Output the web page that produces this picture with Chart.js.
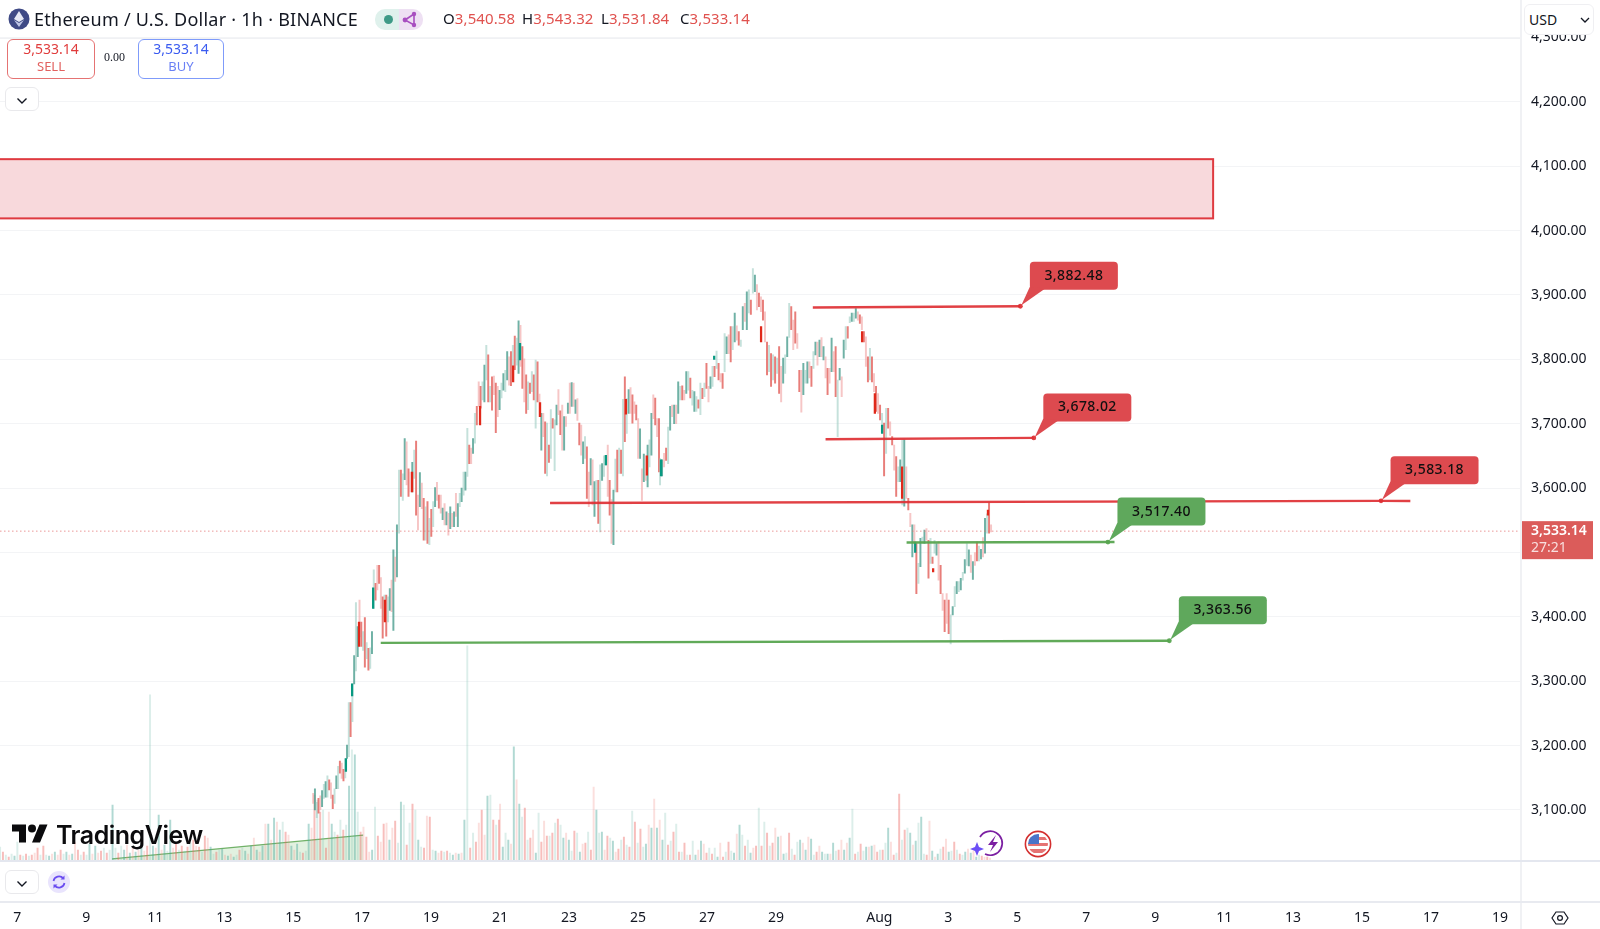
<!DOCTYPE html>
<html>
<head>
<meta charset="utf-8">
<title>Ethereum / U.S. Dollar</title>
<script src="https://cdn.jsdelivr.net/npm/chart.js@4"></script>
<style>
	html, body { margin: 0; padding: 0; background: #fff; }
	#wrap { position: relative; width: 1600px; height: 929px; overflow: hidden; font-family: "Noto Sans", sans-serif; color: #131722; }
	#chart { position: absolute; left: 0; top: 0; }
	.abs { position: absolute; white-space: nowrap; }
	.red { color: #e0524f; }
	.box { position: absolute; box-sizing: border-box; background: #fff; border-radius: 6px; text-align: center; }
	.rule { position: absolute; background: #e8eaf0; }
</style>
</head>
<body>
<div id="wrap">
	<canvas id="chart" width="1600" height="929"></canvas>

	<div class="rule" style="left:0;top:38px;width:1520px;height:1px;background:#f0f1f4"></div>
	<div class="rule" style="left:1520px;top:0;width:2px;height:929px;background:#f0f1f4"></div>
	<div class="rule" style="left:0;top:860px;width:1600px;height:2px;background:#e4e7ef"></div>
	<div class="rule" style="left:0;top:901px;width:1600px;height:2px"></div>

	<svg class="abs" style="left:8px;top:8px" width="22" height="22" viewBox="0 0 22 22">
		<circle cx="11" cy="11" r="10.5" fill="#3f4a86"/>
		<path d="M11 3l5 8-5 3-5-3z" fill="#e6e9f5"/>
		<path d="M11 15l5-3-5 7-5-7z" fill="#bfc6e6"/>
	</svg>
	<div class="abs" style="left:34px;top:6px;font-size:18px;line-height:26px;letter-spacing:0.25px">Ethereum / U.S. Dollar · 1h · BINANCE</div>

	<div class="abs" style="left:375px;top:9px;width:24px;height:21px;background:#dff1ec;border-radius:10px 0 0 10px"></div>
	<div class="abs" style="left:399px;top:9px;width:24px;height:21px;background:#eee0f3;border-radius:0 10px 10px 0"></div>
	<div class="abs" style="left:384px;top:15px;width:9px;height:9px;border-radius:50%;background:#3e9a86"></div>
	<svg class="abs" style="left:401px;top:11px" width="17" height="17" viewBox="0 0 17 17">
		<path d="M13 3L4 9l9 5z" fill="none" stroke="#a84fc0" stroke-width="1.6"/>
		<circle cx="13" cy="3" r="2.2" fill="#a84fc0"/><circle cx="4" cy="9" r="2.4" fill="#a84fc0"/><circle cx="13" cy="14" r="2.2" fill="#a84fc0"/>
	</svg>

	<div class="abs" style="left:443px;top:7px;font-size:15px;line-height:22px;letter-spacing:0.1px">O<span class="red">3,540.58</span></div>
	<div class="abs" style="left:522px;top:7px;font-size:15px;line-height:22px;letter-spacing:0.1px">H<span class="red">3,543.32</span></div>
	<div class="abs" style="left:601px;top:7px;font-size:15px;line-height:22px;letter-spacing:0.1px">L<span class="red">3,531.84</span></div>
	<div class="abs" style="left:680px;top:7px;font-size:15px;line-height:22px;letter-spacing:0.1px">C<span class="red">3,533.14</span></div>

	<div class="box" style="left:7px;top:39px;width:88px;height:40px;border:1px solid #e57373;color:#e03c3c">
		<div style="font-size:14px;line-height:19px;margin-top:-1px">3,533.14</div>
		<div style="font-size:13px;line-height:16px;color:#e2615f">SELL</div>
	</div>
	<div class="abs" style="left:104px;top:50px;font:12px 'Liberation Serif',serif">0.00</div>
	<div class="box" style="left:138px;top:39px;width:86px;height:40px;border:1px solid #7f9bfa;color:#3a5bf0">
		<div style="font-size:14px;line-height:19px;margin-top:-1px">3,533.14</div>
		<div style="font-size:13px;line-height:16px;color:#6a80f5">BUY</div>
	</div>
	<div class="box" style="left:5px;top:87px;width:34px;height:24px;border:1px solid #e9e9ec">
		<svg width="12" height="8" viewBox="0 0 12 8" style="margin-top:7px"><path d="M1.5 1.5L6 6l4.5-4.5" fill="none" stroke="#131722" stroke-width="1.4"/></svg>
	</div>

	<div class="box" style="left:1524px;top:4px;width:70px;height:31px;border:1px solid #efeff2;text-align:left;padding:3px 0 0 4px;font-size:14px;line-height:24px">USD
		<svg width="10" height="7" viewBox="0 0 10 7" style="position:absolute;left:55px;top:12px"><path d="M1 1l4 4 4-4" fill="none" stroke="#131722" stroke-width="1.3"/></svg>
	</div>

	<svg class="abs" style="left:12px;top:824px" width="36" height="19" viewBox="0 4 36 18">
		<path d="M14 22H7V11H0V4h14v18zM28 22h-8l7.5-18h8L28 22z" fill="#0b0b0d"/><circle cx="20" cy="8" r="4" fill="#0b0b0d"/>
	</svg>
	<div class="abs" style="left:56px;top:818px;font:600 25px/34px Inter,sans-serif;letter-spacing:-0.5px;color:#0b0b0d">TradingView</div>

	<svg class="abs" style="left:968px;top:826px" width="40" height="34" viewBox="0 0 40 34">
		<path d="M12 11A12 12 0 1 1 17 28" fill="none" stroke="#7b1fa2" stroke-width="1.7"/>
		<path d="M28 9l-8 10h5l-3 7 8-10h-5z" fill="#7b1fa2"/>
		<path d="M9 16l2 5 5 2-5 2-2 5-2-5-5-2 5-2z" fill="#6c4ff6"/>
	</svg>
	<svg class="abs" style="left:1024px;top:830px" width="28" height="28" viewBox="0 0 28 28">
		<circle cx="14" cy="14" r="12.6" fill="#fff" stroke="#d32f2f" stroke-width="1.6"/>
		<clipPath id="flagclip"><circle cx="14" cy="14" r="10"/></clipPath>
		<g clip-path="url(#flagclip)">
			<rect x="4" y="4" width="20" height="20" fill="#fff"/>
			<rect x="4" y="7" width="20" height="3" fill="#e57373"/>
			<rect x="4" y="13" width="20" height="3" fill="#e57373"/>
			<rect x="4" y="19" width="20" height="4" fill="#e57373"/>
			<rect x="4" y="4" width="11" height="10" fill="#4a74c9"/>
		</g>
	</svg>

	<div class="box" style="left:5px;top:870px;width:34px;height:24px;border:1px solid #e9e9ec">
		<svg width="12" height="8" viewBox="0 0 12 8" style="margin-top:7px"><path d="M1.5 1.5L6 6l4.5-4.5" fill="none" stroke="#131722" stroke-width="1.4"/></svg>
	</div>
	<svg class="abs" style="left:48px;top:871px" width="22" height="22" viewBox="0 0 22 22">
		<circle cx="11" cy="11" r="11" fill="#e9e4fd"/>
		<path d="M5.5 10a5.6 5.6 0 0 1 9.8-2.6M16.5 12a5.6 5.6 0 0 1-9.8 2.6" fill="none" stroke="#6a4cf0" stroke-width="1.7"/>
		<path d="M16.5 4.5v4h-4zM5.5 17.5v-4h4z" fill="#6a4cf0"/>
	</svg>
	<svg class="abs" style="left:1551px;top:909px" width="18" height="18" viewBox="0 0 18 18">
		<path d="M5 3h8l4 6-4 6H5L1 9z" fill="none" stroke="#131722" stroke-width="1.2"/>
		<circle cx="9" cy="9" r="2.4" fill="none" stroke="#131722" stroke-width="1.2"/>
	</svg>
</div>

<script>
// price ticks and date ticks, x is counted in days from 1 July
const priceTicks = [3100, 3200, 3300, 3400, 3500, 3600, 3700, 3800, 3900, 4000, 4100, 4200, 4300];
const dateTicks = [7, 9, 11, 13, 15, 17, 19, 21, 23, 25, 27, 29, 32, 34, 36, 38, 40, 42, 44, 46, 48, 50];
const dateLabels = ['7', '9', '11', '13', '15', '17', '19', '21', '23', '25', '27', '29', 'Aug', '3', '5', '7', '9', '11', '13', '15', '17', '19'];

const lastPrice = 3533.14;
const lastPriceText = '3,533.14';
const countdownText = '27:21';

// candles: high, low and up (1) or down (0)
const candleHigh = [
	3126,3133,3112,3118,3122,3130,3140,3144,3153,3147,
	3142,3123,3133,3153,3168,3176,3173,3163,3180,3201,
	3267,3267,3296,3340,3422,3385,3426,3392,3377,3399,
	3360,3351,3352,3377,3473,3452,3480,3480,3461,3431,
	3434,3434,3431,3444,3457,3504,3493,3543,

	3628,3628,3622,3677,3672,3630,3625,3640,3659,3673,
	3589,3624,3608,3584,3571,3579,3553,3567,3579,3601,
	3609,3589,3589,3569,3576,3563,3561,3571,3561,3563,
	3592,3576,3592,3600,3625,3625,3693,3667,3662,3677,
	3716,3727,3765,3758,3765,3791,3822,3807,3758,3773,
	3774,3763,3758,3752,3763,3778,3783,3812,3804,3812,
	3822,3836,3833,3860,3853,3820,3801,3776,3765,3763,
	3781,3776,3799,3796,3746,3716,3716,3703,3701,3667,
	3722,3708,3706,3729,3753,3720,3729,3711,3711,3732,
	3763,3764,3763,3737,3739,3701,3698,3672,3680,3664,
	3625,3646,3644,3610,3612,3612,3636,3638,3650,3651,
	3667,3612,3582,3597,3645,3659,3662,3659,3738,3773,
	3739,3753,3756,3745,3734,3729,3708,3692,3630,3653,
	3650,3667,3675,3716,3745,3740,3708,3708,

	3646,3644,3654,3662,3695,3727,3729,3729,3729,3765,
	3758,3759,3752,3781,3781,3771,3752,3750,3742,3737,
	3763,3755,3763,3794,3758,3773,3789,3789,3813,3794,
	3778,3778,3840,3835,3838,3851,3851,3872,3852,3843,
	3830,3882,3887,3905,3908,3892,3941,3931,3916,3903,
	3897,3892,3874,3827,3822,3809,3807,3804,3802,3820,
	3789,3802,3807,3835,3887,3882,3861,3874,3840,3783,
	3783,3794,3783,3796,3796,3789,3812,3827,3827,3830,
	3834,3820,3804,3786,3786,3833,3812,3820,3768,3786,
	3773,3830,3851,3851,3866,3872,3872,3879,3874,3869,
	3866,3843,3835,3804,3817,3804,3778,3758,3747,3729,
	3716,3701,3724,3724,3703,3680,3667,3649,3633,3644,
	3675,3675,3633,3584,3561,3543,3543,3514,3483,3522,
	3524,3535,3537,3519,3522,3493,3519,3514,3517,3480,
	3436,3426,3436,3426,3403,3416,3447,3455,3455,3460,
	3469,3489,3514,3504,3496,3486,3500,3516,3510,3505,
	3523,3553,3560,3577,3543
];
const candleLow = [
	3110,3100,3088,3095,3100,3105,3118,3120,3120,3131,
	3118,3102,3110,3133,3133,3157,3149,3145,3150,3180,
	3183,3214,3237,3296,3316,3338,3369,3354,3348,3322,
	3335,3317,3320,3343,3413,3426,3442,3452,3413,3367,
	3400,3370,3392,3410,3408,3379,3455,3462,

	3530,3587,3581,3613,3605,3587,3594,3594,3615,3558,
	3535,3571,3568,3519,3519,3514,3512,3525,3540,3571,
	3581,3569,3561,3551,3543,3543,3527,3537,3540,3540,
	3556,3540,3571,3579,3589,3597,3618,3638,3638,3654,
	3670,3698,3727,3724,3737,3734,3768,3734,3734,3721,
	3745,3686,3711,3722,3740,3752,3750,3768,3760,3759,
	3789,3784,3791,3778,3789,3755,3734,3716,3722,3747,
	3750,3737,3693,3734,3711,3659,3680,3623,3619,3640,
	3646,3693,3627,3698,3714,3683,3659,3659,3696,3716,
	3716,3727,3727,3716,3705,3667,3651,3638,3646,3584,
	3571,3605,3574,3556,3582,3545,3532,3612,3618,3636,
	3587,3558,3514,3512,3594,3594,3623,3623,3619,3672,
	3685,3716,3716,3701,3716,3706,3646,3646,3581,3610,
	3612,3602,3633,3651,3708,3698,3680,3625,

	3605,3619,3633,3643,3638,3690,3711,3700,3700,3716,
	3737,3737,3737,3747,3752,3740,3729,3719,3719,3724,
	3714,3739,3742,3755,3734,3755,3758,3773,3786,3768,
	3765,3755,3781,3809,3809,3796,3815,3827,3830,3822,
	3820,3846,3859,3846,3872,3870,3903,3905,3877,3882,
	3874,3861,3827,3776,3781,3758,3768,3763,3778,3747,
	3734,3763,3778,3804,3834,3846,3815,3825,3817,3750,
	3718,3745,3763,3763,3771,3758,3786,3807,3791,3804,
	3804,3799,3771,3745,3763,3781,3781,3742,3680,3768,
	3742,3802,3815,3833,3857,3859,3859,3864,3861,3856,
	3846,3827,3789,3765,3768,3765,3750,3719,3716,3706,
	3698,3619,3654,3693,3682,3667,3628,3587,3610,3610,
	3574,3572,3584,3566,3540,3493,3514,3436,3452,3478,
	3514,3514,3519,3460,3483,3483,3499,3496,3457,3436,
	3410,3377,3390,3374,3358,3403,3416,3436,3439,3442,
	3457,3468,3480,3479,3469,3458,3480,3487,3487,3490,
	3493,3499,3530,3530,3532
];
const candleUp = [
	0,1,1,0,0,1,1,1,1,0,
	0,0,1,1,1,0,0,0,1,1,
	1,0,1,1,1,1,0,0,1,0,
	1,0,1,1,1,0,0,0,0,0,
	1,0,1,1,0,1,0,1,

	1,0,1,1,0,0,0,1,1,0,
	0,1,0,0,1,0,1,0,1,1,
	0,0,0,1,0,1,0,1,0,1,
	0,1,1,1,1,1,1,0,0,1,
	1,0,0,0,1,1,1,0,1,0,
	0,0,0,1,1,1,1,1,0,0,
	1,0,1,1,0,0,0,0,1,0,
	1,0,1,0,0,1,0,0,1,0,
	1,0,1,1,0,0,0,1,0,1,
	0,1,0,1,0,0,0,1,1,0,
	0,1,0,1,1,0,1,1,1,1,
	0,0,0,1,1,0,1,0,1,0,
	1,1,0,0,0,0,0,1,0,1,
	0,1,1,1,0,0,0,0,

	1,1,0,0,1,1,0,1,0,1,
	1,0,0,1,1,0,1,1,1,0,
	1,0,1,0,0,1,1,0,1,0,
	0,0,1,1,0,0,1,1,0,0,
	1,1,0,1,1,0,1,1,0,0,
	0,0,0,0,1,0,1,0,1,0,
	0,1,1,1,1,0,0,0,0,0,
	0,1,1,1,0,0,1,1,0,1,
	0,1,0,0,0,1,0,0,1,1,
	0,1,1,0,1,1,1,1,0,0,
	0,0,0,0,1,0,0,0,0,0,
	1,0,1,0,0,0,0,0,1,1,
	1,1,0,0,0,1,0,0,1,1,
	1,1,0,0,1,0,1,1,0,0,
	0,0,0,0,1,1,1,1,1,1,
	1,1,1,1,0,1,0,0,1,1,
	0,1,1,0,0
];
// the three blocks above, by number of bars and the days they cover
const candleBlockBars = [48, 138, 165];
const candleBlockFrom = [15.58, 18.07, 25.64];
const candleBlockTo = [18.01, 25.61, 35.24];

// the few candle bodies that stand out in the picture: day, open, close
const bodyDay = [16.91, 17.66, 18.45, 20.42, 21.38, 22.16, 24.65, 25.26, 28.57, 31.5, 31.87, 32.66, 33.56, 35.15, 16.53, 16.71, 17.32, 21.58, 24.07, 25.67, 27.21, 32.08, 33.04];
const bodyOpen = [3392, 3426, 3625, 3727, 3790, 3733, 3738, 3650, 3851, 3843, 3747, 3633, 3475, 3566, 3160, 3277, 3413, 3799, 3636, 3619, 3800, 3685, 3500];
const bodyClose = [3354, 3392, 3594, 3698, 3765, 3711, 3715, 3620, 3827, 3827, 3716, 3584, 3470, 3558, 3180, 3296, 3445, 3825, 3651, 3644, 3805, 3698, 3516];

// volume, first block 7 Jul to 21 Jul, second block to the last bar
const volumeA = [
	13,8,5,3,6,4,18,5,4,6,4,5,
	7,12,5,14,5,4,6,8,5,10,6,
	8,5,6,18,10,5,8,5,16,6,14,7,9,12,7,10,55,
	12,7,14,10,15,7,12,8,10,16,9,14,165,
	14,12,45,10,15,9,40,12,16,10,14,9,13,17,20,14,13,8,24,
	22,13,6,8,10,11,5,4,6,3,5,10,12,9,6,14,22,10,8,14,36,
	36,20,42,38,30,38,28,25,14,10,16,8,7,9,36,32,65,60,48,50,12,48,36,28,
	25,40,30,35,74,110,105,48,28,33,23,8,10,53,24,18,36,37,20,32,39,17,58,55,15,37,56,50,20,13,12,44,43,10,9,7,9,8,9,7,5,7,6,7,40,214,12,27,18,37,50,25,64,65,40,35,40
];
const volumeAUp = [
	1,0,1,0,1,1,1,0,1,0,1,0,
	0,0,1,0,1,1,0,1,0,0,1,
	1,0,1,0,0,1,0,1,1,0,1,0,0,1,0,1,1,
	1,0,1,1,0,1,0,1,0,1,0,0,1,
	1,0,1,0,1,1,1,0,0,1,0,1,0,1,0,0,0,1,0,
	0,1,1,0,1,1,0,1,0,1,1,0,1,1,0,1,0,1,0,1,0,
	1,0,1,0,1,1,0,0,1,0,1,1,0,1,1,0,0,1,0,1,0,0,1,1,
	0,1,0,1,1,1,1,1,0,0,0,0,1,1,0,0,0,0,1,0,0,1,1,1,0,1,0,1,1,1,0,0,0,1,1,0,0,1,0,1,1,0,1,0,1,1,0,1,0,0,0,0,1,1,0,1,0
];
const volumeB = [
	56,13,27,20,16,113,80,56,43,52,20,22,30,7,47,18,39,24,24,27,37,41,35,22,27,20,9,29,27,8,16,17,28,10,73,50,27,28,10,24,
	22,19,8,11,20,23,15,13,49,38,17,31,13,16,35,32,61,32,40,20,47,15,19,28,36,8,8,17,5,5,19,5,10,19,16,7,12,6,12,3,
	17,3,8,18,9,7,26,35,25,14,20,7,12,14,52,14,38,27,14,17,32,23,24,6,7,27,11,5,18,20,17,10,23,21,5,8,14,8,6,6,
	6,17,9,10,20,10,17,22,51,6,8,16,9,13,13,14,15,8,10,10,17,32,18,5,7,66,20,30,32,27,15,19,37,43,6,5,39,9,3,6,
	11,13,21,8,9,18,10,6,5,8,11,7,9,3,5,4,3,3,2
];
const volumeBUp = [
	0,1,1,1,0,1,0,1,1,0,1,0,0,1,1,0,0,0,1,0,1,0,1,1,0,1,1,0,1,1,0,0,1,0,0,1,1,1,0,0,
	1,1,0,0,1,0,1,0,1,0,1,0,1,1,0,1,0,1,0,1,1,0,1,0,1,0,1,0,1,0,1,1,0,1,0,0,1,0,1,1,
	0,0,1,0,1,1,0,1,1,0,1,1,0,0,1,0,1,0,1,0,0,1,0,1,1,0,1,0,1,1,0,1,0,1,1,0,0,1,1,1,
	0,1,1,0,0,1,0,1,1,0,1,0,1,1,0,1,0,0,1,0,1,1,0,0,1,0,1,0,1,1,0,1,1,1,1,0,0,1,0,1,
	1,0,0,1,1,0,1,0,1,1,0,1,0,1,1,0,0,0,0
];
const volumeBlockFrom = [6.5, 21.0];
const volumeBlockTo = [20.97, 35.21];

// drawn levels: day, price
const resistanceHighX = [30.07, 36.09];
const resistanceHighY = [3880.5, 3882.48];
const resistanceMidX = [30.44, 36.48];
const resistanceMidY = [3675.8, 3678.02];
const resistanceLowX = [22.45, 46.55, 47.4];
const resistanceLowY = [3576.9, 3580.2, 3580];
const supportHighX = [32.79, 38.63, 38.82];
const supportHighY = [3515.5, 3516.2, 3516.4];
const supportLowX = [17.54, 40.41];
const supportLowY = [3359.6, 3362.9];
const wedgeX = [9.75, 17.03];
const wedgeY = [3023.9, 3061];

// selling zone: price top and bottom, day it stops at
const zoneTop = 4111;
const zoneBottom = 4019;
const zoneEnd = 41.68;

// callouts: anchor day, anchor price, text
const calloutX = [36.09, 36.48, 46.55, 38.63, 40.41];
const calloutY = [3882.48, 3678.02, 3580.2, 3516.2, 3362.9];
const calloutText = ['3,882.48', '3,678.02', '3,583.18', '3,517.40', '3,363.56'];
const calloutUp = [0, 0, 0, 1, 1];

const xMin = 6.498;
const xMax = 50.58;
const yMin = 3022.3;
const yMax = 4300;

// days for bars listed in blocks
function blockDays(counts, from, to) {
	let days = [];
	counts.forEach((n, b) => {
		for (let i = 0; i < n; i++) {
			days.push(from[b] + (to[b] - from[b]) * i / (n - 1));
		}
	});
	return days;
}

const candleDays = blockDays(candleBlockBars, candleBlockFrom, candleBlockTo);
const volumeDays = blockDays([volumeA.length, volumeB.length], volumeBlockFrom, volumeBlockTo);
const volumeAll = volumeA.concat(volumeB);
const volumeUpAll = volumeAUp.concat(volumeBUp);

function points(xs, ys) {
	return xs.map((x, i) => ({ x: x, y: ys[i] }));
}

function levelLine(xs, ys, color, anchor) {
	return {
		type: 'line',
		data: points(xs, ys),
		borderColor: color,
		borderWidth: 2.4,
		pointRadius: xs.map((x, i) => i === anchor ? 2.4 : 0),
		pointBackgroundColor: color,
		pointBorderWidth: 0,
		order: 1,
		clip: false
	};
}

const RED = 'rgba(222,48,52,0.92)';
const GREEN = 'rgba(88,165,80,0.95)';

// selling zone box behind the candles
const zonePlugin = {
	id: 'zone',
	beforeDatasetsDraw(chart) {
		const { ctx, scales } = chart;
		const top = scales.y.getPixelForValue(zoneTop);
		const bottom = scales.y.getPixelForValue(zoneBottom);
		const right = scales.x.getPixelForValue(zoneEnd);
		ctx.save();
		ctx.fillStyle = '#f8d9dc';
		ctx.strokeStyle = '#df3a40';
		ctx.lineWidth = 2;
		ctx.fillRect(-4, top, right + 4, bottom - top);
		ctx.strokeRect(-4, top, right + 4, bottom - top);
		ctx.restore();
	}
};

// price callouts and the last price tag on the axis
const calloutPlugin = {
	id: 'callout',
	afterDraw(chart) {
		const { ctx, scales } = chart;
		calloutText.forEach((text, i) => {
			const ax = scales.x.getPixelForValue(calloutX[i]);
			const ay = scales.y.getPixelForValue(calloutY[i]);
			const left = ax + 9.5;
			const bottom = ay - 16.5;
			const w = 88;
			const h = 28;
			ctx.save();
			ctx.fillStyle = calloutUp[i] ? '#5fa85c' : '#dd4a4f';
			ctx.beginPath();
			ctx.roundRect(left, bottom - h, w, h, 4);
			ctx.fill();
			ctx.beginPath();
			ctx.moveTo(left, bottom - 3);
			ctx.lineTo(left + 15, bottom - 1);
			ctx.lineTo(ax + 1, ay - 1);
			ctx.closePath();
			ctx.fill();
			ctx.fillStyle = '#101010';
			ctx.font = '500 14px "Noto Sans"';
			ctx.letterSpacing = '0.4px';
			ctx.textAlign = 'center';
			ctx.textBaseline = 'middle';
			ctx.fillText(text, left + w / 2, bottom - h / 2);
			ctx.restore();
		});

		const py = scales.y.getPixelForValue(lastPrice);
		ctx.save();
		ctx.fillStyle = '#db5c5a';
		ctx.fillRect(1521, py - 10, 72, 38);
		ctx.textAlign = 'left';
		ctx.textBaseline = 'middle';
		ctx.font = '600 14px "Noto Sans"';
		ctx.fillStyle = '#fff';
		ctx.fillText(lastPriceText, 1531, py);
		ctx.font = '14px "Noto Sans"';
		ctx.fillStyle = 'rgba(255,255,255,0.8)';
		ctx.fillText(countdownText, 1531, py + 17);
		ctx.restore();
	}
};

const ctx = document.getElementById('chart').getContext('2d');

window.chartEth = new Chart(ctx, {
	data: {
		datasets: [
			levelLine(resistanceHighX, resistanceHighY, RED, 1),
			levelLine(resistanceMidX, resistanceMidY, RED, 1),
			levelLine(resistanceLowX, resistanceLowY, RED, 1),
			levelLine(supportHighX, supportHighY, GREEN, 1),
			levelLine(supportLowX, supportLowY, GREEN, 1),
			{
				type: 'line',
				data: points([xMin, xMax], [lastPrice, lastPrice]),
				borderColor: 'rgba(226,110,110,0.7)',
				borderWidth: 1,
				borderDash: [1.5, 2.5],
				pointRadius: 0,
				order: 2
			},
			{
				type: 'bar',
				data: bodyDay.map((d, i) => ({ x: d, y: [bodyOpen[i], bodyClose[i]] })),
				backgroundColor: bodyDay.map((d, i) => bodyClose[i] > bodyOpen[i] ? '#089981' : '#e0281a'),
				barThickness: 1.6,
				grouped: false,
				order: 2.5
			},
			{
				type: 'bar',
				data: candleDays.map((d, i) => ({ x: d, y: [candleLow[i], candleHigh[i]] })),
				backgroundColor: candleDays.map((d, i) => {
					if (candleUp[i]) {
						return i % 2 ? 'rgba(70,155,140,0.78)' : 'rgba(150,200,190,0.55)';
					}
					return i % 2 ? 'rgba(226,90,85,0.78)' : 'rgba(240,160,160,0.6)';
				}),
				barThickness: 1.3,
				grouped: false,
				order: 3
			},
			{
				type: 'bar',
				yAxisID: 'yVol',
				data: volumeDays.map((d, i) => ({ x: d, y: volumeAll[i] })),
				backgroundColor: volumeDays.map((d, i) => {
					if (volumeUpAll[i]) {
						return i % 2 ? 'rgba(70,165,150,0.42)' : 'rgba(120,190,175,0.26)';
					}
					return i % 2 ? 'rgba(235,100,95,0.42)' : 'rgba(240,130,125,0.26)';
				}),
				barThickness: 1.3,
				grouped: false,
				order: 4
			},
			{
				type: 'line',
				data: points(wedgeX, wedgeY),
				borderColor: 'rgba(90,165,80,0.85)',
				borderWidth: 1.2,
				pointRadius: 0,
				backgroundColor: 'rgba(110,185,100,0.2)',
				fill: { value: yMin },
				order: 5
			}
		]
	},
	options: {
		responsive: false,
		animation: false,
		devicePixelRatio: 1,
		events: [],
		layout: { autoPadding: false, padding: { top: 37.5, left: 0, right: 0, bottom: 0 } },
		plugins: {
			legend: { display: false },
			tooltip: { enabled: false }
		},
		scales: {
			x: {
				type: 'linear',
				position: 'bottom',
				min: xMin,
				max: xMax,
				offset: false,
				// tick marks are invisible, their length only pushes the labels below the bottom strip
				grid: { color: 'transparent', drawOnChartArea: false, drawTicks: true, tickLength: 50 },
				border: { display: false },
				afterBuildTicks: (axis) => { axis.ticks = dateTicks.map(v => ({ value: v })); },
				afterFit: (axis) => { axis.height = 69; },
				ticks: {
					autoSkip: false,
					maxRotation: 0,
					padding: 0,
					color: '#131722',
					font: { family: 'Noto Sans', size: 14 },
					callback: (v) => dateLabels[dateTicks.indexOf(v)]
				}
			},
			y: {
				type: 'linear',
				position: 'right',
				min: yMin,
				max: yMax,
				grid: { color: '#f3f4f6', drawTicks: false },
				border: { display: false },
				afterBuildTicks: (axis) => { axis.ticks = priceTicks.map(v => ({ value: v })); },
				afterFit: (axis) => { axis.width = 80; axis.paddingTop = 0; },
				ticks: {
					padding: 11,
					color: '#131722',
					font: { family: 'Noto Sans', size: 14 },
					callback: (v) => v.toLocaleString('en-US', { minimumFractionDigits: 2 })
				}
			},
			yVol: {
				type: 'linear',
				display: false,
				min: 0,
				max: 822
			}
		}
	},
	plugins: [zonePlugin, calloutPlugin]
});
</script>
</body>
</html>
